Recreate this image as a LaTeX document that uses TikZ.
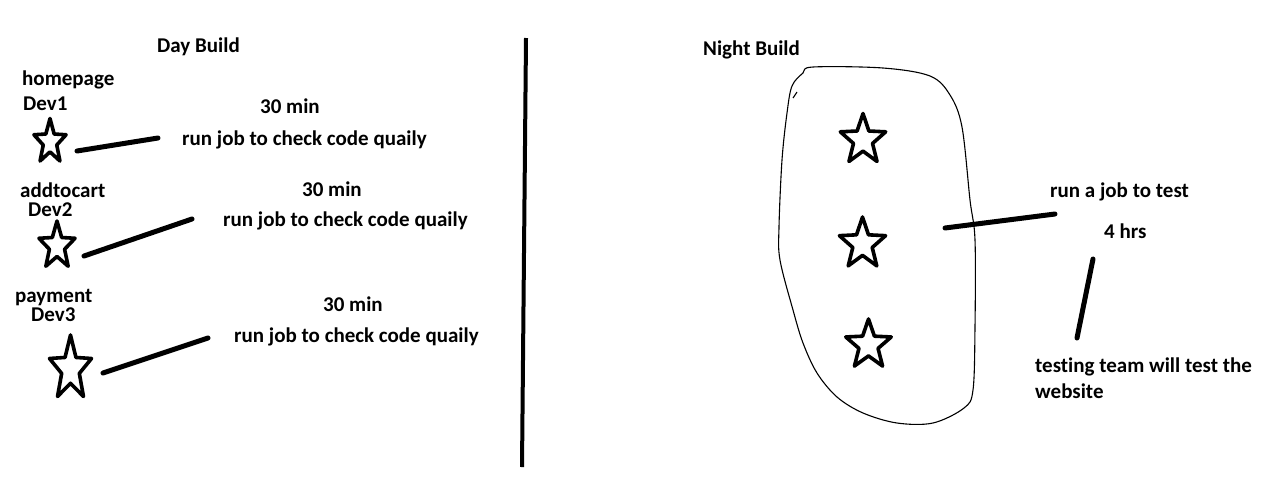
\documentclass[tikz,border=0pt]{standalone}
\usepackage{fontspec}
\setmainfont{Carlito}[Ligatures={NoCommon}]
\begin{document}
\begin{tikzpicture}[x=1pt,y=-1pt,
  lbl/.style={anchor=base west,inner sep=0pt,font=\fontsize{21}{26}\selectfont\bfseries},
  stroke/.style={line width=5pt,line cap=round},
  starline/.style={line width=3.6pt,line join=round,line cap=round},
  blobline/.style={line width=1.1pt}]
\useasboundingbox (0,0) rectangle (1275,499);
\newcommand\handstar[5]{%
  \coordinate (#1) at (#2,#3);
  \begin{scope}[shift={(#1)},xscale={#5*#4},yscale={-#4}]
    \draw[starline] (90:1) \foreach \k in {1,...,9} { -- ({90+36*\k}:{ifthenelse(isodd(\k),0.42,1)}) } -- cycle;
  \end{scope}}
% Day build
\node[lbl] (daybuild) at (157,52) {Day Build};
\node[lbl] (home) at (22,85) {homepage};
\node[lbl] (dev1) at (23,110) {Dev1};
\node[lbl] (min1) at (260,113) {30 min};
\node[lbl] (run1) at (182,145) {run job to check code quaily};
\handstar{s1}{50}{142}{23.5}{0.72}
\coordinate (l1a) at (77,151); \coordinate (l1b) at (158,138);
\draw[stroke] (l1a) -- (l1b);

\node[lbl] (cart) at (20,197) {addtocart};
\node[lbl] (dev2) at (28,216) {Dev2};
\node[lbl] (min2) at (302,196) {30 min};
\node[lbl] (run2) at (223,226) {run job to check code quaily};
\handstar{s2}{57}{246}{25}{0.76}
\coordinate (l2a) at (84,256); \coordinate (l2b) at (192,219);
\draw[stroke] (l2a) -- (l2b);

\node[lbl] (pay) at (15,302) {payment};
\node[lbl] (dev3) at (31,321) {Dev3};
\node[lbl] (min3) at (323,311) {30 min};
\node[lbl] (run3) at (234,342) {run job to check code quaily};
\handstar{s3}{70.5}{369}{34}{0.65}
\coordinate (l3a) at (103,373); \coordinate (l3b) at (208,338);
\draw[stroke] (l3a) -- (l3b);

% divider
\coordinate (divtop) at (526,38); \coordinate (divbot) at (522,467);
\draw[line width=4pt] (divtop) -- (divbot);

% Night build
\node[lbl] (nightbuild) at (703,55) {Night Build};
\draw[blobline] plot[smooth cycle,tension=0.55] coordinates {
 (813,67) (883,68) (930,76) (950,95) (962,127) (970,200) (975,240) (975,327)
 (973,390) (964,408) (933,423) (897,423) (863,413) (837,397) (817,373) (803,343)
 (793,310) (780,260) (779,227) (782,160) (787,113) (792,86) (803,73)};
\coordinate (hooka) at (797,92); \coordinate (hookb) at (793,98);
\draw[blobline] (hooka) -- (hookb);
\handstar{sa}{863}{140}{26.5}{0.9}
\handstar{sb}{862.5}{244}{27}{0.9}
\handstar{sc}{868.5}{345}{26}{0.92}
\coordinate (l4a) at (945,228); \coordinate (l4b) at (1055,214);
\draw[stroke] (l4a) -- (l4b);
\node[lbl] (runtest) at (1050,197) {run a job to test};
\node[lbl] (hrs) at (1104,238) {4 hrs};
\coordinate (l5a) at (1093,259); \coordinate (l5b) at (1077,338);
\draw[stroke] (l5a) -- (l5b);
\node[lbl,align=left,anchor=north west] (team) at (1035,358) {testing team will test the\\website};
\end{tikzpicture}
\end{document}
